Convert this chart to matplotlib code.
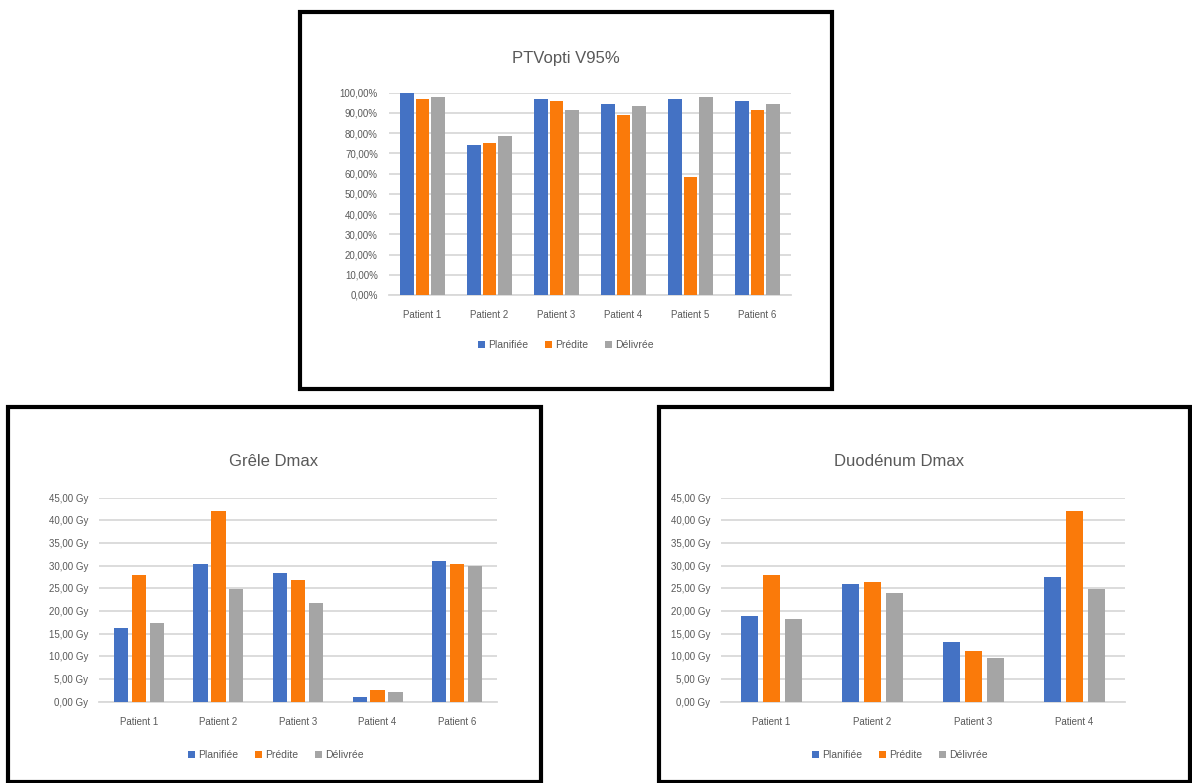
import matplotlib
matplotlib.use("Agg")
import matplotlib.pyplot as plt
from matplotlib.patches import Rectangle, Patch
import numpy as np

# --- Daten ---
series_names = ["Planifiée", "Prédite", "Délivrée"]
colors = ["#4472C4", "#FA7A0A", "#A5A5A5"]

ptv_patients = ["Patient 1", "Patient 2", "Patient 3", "Patient 4", "Patient 5", "Patient 6"]
ptv_planifiee = [100.0, 74.1, 96.9, 94.6, 96.9, 95.9]
ptv_predite = [96.9, 75.3, 95.9, 89.0, 58.3, 91.3]
ptv_delivree = [98.0, 78.7, 91.3, 93.4, 98.0, 94.6]

grele_patients = ["Patient 1", "Patient 2", "Patient 3", "Patient 4", "Patient 6"]
grele_planifiee = [16.3, 30.4, 28.5, 1.0, 31.0]
grele_predite = [27.9, 42.1, 26.9, 2.6, 30.4]
grele_delivree = [17.3, 24.9, 21.8, 2.1, 29.9]

duo_patients = ["Patient 1", "Patient 2", "Patient 3", "Patient 4"]
duo_planifiee = [18.8, 25.9, 13.2, 27.4]
duo_predite = [27.9, 26.5, 11.2, 42.1]
duo_delivree = [18.3, 23.9, 9.7, 24.9]

W, H = 1192, 783
TXT = "#595959"
GRID = "#D9D9D9"
plt.rcParams['font.family'] = ['Liberation Sans', 'DejaVu Sans']

fig = plt.figure(figsize=(W / 100, H / 100), dpi=100)


def px_axes(x0, y0, x1, y1):
    # Pixelkoordinaten (oben links) -> Figure-Koordinaten
    return fig.add_axes([x0 / W, 1 - y1 / H, (x1 - x0) / W, (y1 - y0) / H])


def px_box(x0, y0, x1, y1):
    fig.patches.append(Rectangle((x0 / W, 1 - y1 / H), (x1 - x0) / W, (y1 - y0) / H,
                                 transform=fig.transFigure, fill=False,
                                 edgecolor="black", linewidth=3))


def bar_chart(ax, cats, data, ymax, step, fmt, bar_w, gap):
    x = np.arange(len(cats))
    offsets = [-gap, 0, gap]
    for vals, off, c, name in zip(data, offsets, colors, series_names):
        ax.bar(x + off, vals, width=bar_w, color=c, label=name, zorder=3)
    ax.set_xlim(-0.5, len(cats) - 0.5)
    ticks = np.arange(0, ymax + step / 2, step)
    ax.set_yticks(ticks)
    ax.set_yticklabels([fmt(t) for t in ticks])
    ax.set_xticks(x)
    ax.set_xticklabels(cats)
    ax.yaxis.grid(True, color=GRID, linewidth=1.3, zorder=0)
    for s in ["top", "right", "left"]:
        ax.spines[s].set_visible(False)
    ax.spines["bottom"].set_color(GRID)
    ax.spines["bottom"].set_linewidth(1.3)
    ax.tick_params(axis="both", length=0, colors=TXT, labelsize=7)
    ax.tick_params(axis="y", pad=8)
    ax.tick_params(axis="x", pad=11)
    ax.set_ylim(0, ymax)


def add_legend(cx, cy):
    handles = [Patch(facecolor=c, label=n) for c, n in zip(colors, series_names)]
    fig.legend(handles=handles, loc="center", bbox_to_anchor=(cx / W, 1 - cy / H),
               ncol=3, frameon=False, fontsize=7.5, labelcolor=TXT,
               handlelength=0.65, handleheight=0.65, handletextpad=0.35, columnspacing=1.6)


pct = lambda v: f"{v:.2f}".replace(".", ",") + "%"
gy = lambda v: f"{v:.2f}".replace(".", ",") + " Gy"

# --- PTVopti V95% ---
px_box(300, 12, 832, 389)
ax1 = px_axes(389, 92.7, 791, 295)
bar_chart(ax1, ptv_patients, [ptv_planifiee, ptv_predite, ptv_delivree],
          100, 10, pct, 0.2, 0.23)
fig.text(566 / W, 1 - 58 / H, "PTVopti V95%", ha="center", va="center",
         fontsize=12, color=TXT)
add_legend(566, 345)

# --- Grêle Dmax ---
px_box(8, 407, 541, 782)
ax2 = px_axes(99, 497.7, 497, 701.7)
bar_chart(ax2, grele_patients, [grele_planifiee, grele_predite, grele_delivree],
          45, 5, gy, 0.18, 0.225)
fig.text(274 / W, 1 - 462 / H, "Grêle Dmax", ha="center", va="center",
         fontsize=12, color=TXT)
add_legend(276, 755)

# --- Duodénum Dmax ---
px_box(659, 407, 1190, 782)
ax3 = px_axes(721, 497.7, 1125, 701.7)
bar_chart(ax3, duo_patients, [duo_planifiee, duo_predite, duo_delivree],
          45, 5, gy, 0.165, 0.22)
fig.text(899 / W, 1 - 462 / H, "Duodénum Dmax", ha="center", va="center",
         fontsize=12, color=TXT)
add_legend(900, 755)

fig.savefig("out.png", dpi=100)
